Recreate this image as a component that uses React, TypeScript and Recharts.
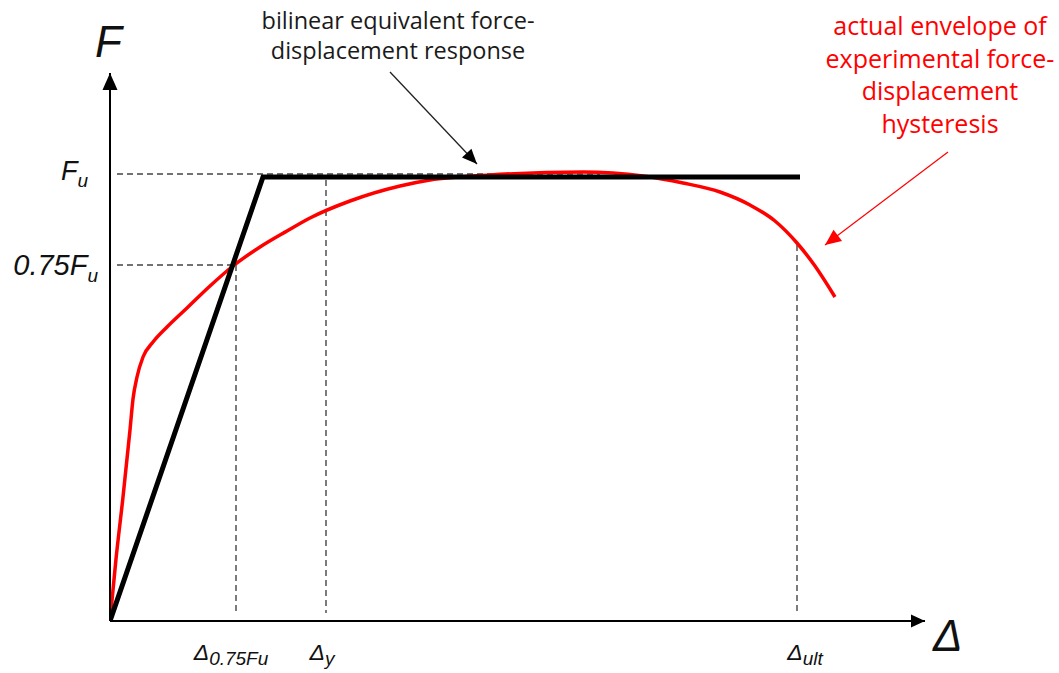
import React from "react";
import {
  ComposedChart,
  Line,
  XAxis,
  YAxis,
  ReferenceLine,
  ReferenceDot,
} from "recharts";

// ---- data (schematic units: Δ horizontally, F vertically) ----
const bilinear = [
  { x: 0, y: 0 },
  { x: 153, y: 444 },
  { x: 690, y: 444 },
];

const envelope = [
  { x: 0, y: 0 },
  { x: 6, y: 62 },
  { x: 13, y: 124 },
  { x: 20, y: 191 },
  { x: 23, y: 222 },
  { x: 27, y: 244 },
  { x: 33, y: 264 },
  { x: 43, y: 279 },
  { x: 57, y: 294 },
  { x: 77, y: 313 },
  { x: 100, y: 335 },
  { x: 123, y: 355 },
  { x: 150, y: 374 },
  { x: 177, y: 390 },
  { x: 200, y: 403 },
  { x: 240, y: 420 },
  { x: 290, y: 435 },
  { x: 320, y: 441 },
  { x: 380, y: 446 },
  { x: 473, y: 449 },
  { x: 533, y: 445 },
  { x: 573, y: 438 },
  { x: 610, y: 429 },
  { x: 640, y: 416 },
  { x: 665, y: 400 },
  { x: 687, y: 378 },
  { x: 705, y: 355 },
  { x: 725, y: 324 },
];

const FU = 444;
const F075 = 356;
const D075 = 126;
const DY = 216;
const DULT = 687;
const ENV_AT_DULT = 376;
const X_MAX = 815;
const Y_MAX = 548;

const yTickLabels = [
  { value: F075, main: "0.75F", sub: "u" },
  { value: FU, main: "F", sub: "u" },
];
const xTickLabels = [
  { value: D075, main: "Δ", sub: "0.75Fu" },
  { value: DY, main: "Δ", sub: "y" },
  { value: DULT, main: "Δ", sub: "ult" },
];

const blackNote = ["bilinear equivalent force-", "displacement response"];
const redNote = [
  "actual envelope of",
  "experimental force-",
  "displacement",
  "hysteresis",
];

// annotation arrows (start -> tip), in chart units
const blackArrow = { from: { x: 280, y: 549 }, to: { x: 367, y: 457 } };
const redArrow = { from: { x: 838, y: 469 }, to: { x: 715, y: 376 } };

const RED = "#ff0000";
const DASH = "#444";
const SANS = "'Liberation Sans', Arial, sans-serif";
const NOTE_FONT = "'Open Sans', sans-serif";

const arrowHead =
  (angle: number, len: number, half: number, fill: string) => (props: any) => {
    const { cx, cy } = props;
    if (cx == null || cy == null) return <g />;
    return (
      <polygon
        points={`0,0 ${-len},${-half} ${-len},${half}`}
        fill={fill}
        transform={`translate(${cx},${cy}) rotate(${angle})`}
      />
    );
  };

const yTickOffsets: Record<number, { dx: number; dy: number; main: number; sub: number }> = {
  [F075]: { dx: -10, dy: 10, main: 29, sub: 19 },
  [FU]: { dx: -20, dy: 3, main: 27, sub: 19 },
};

const YTick = (props: any) => {
  const { x, y, payload } = props;
  const item = yTickLabels.find((t) => t.value === payload.value);
  if (!item) return <g />;
  const o = yTickOffsets[item.value];
  return (
    <text
      x={x + o.dx}
      y={y + o.dy}
      textAnchor="end"
      fontFamily={SANS}
      fontStyle="italic"
      fill="#111"
    >
      <tspan fontSize={o.main}>{item.main}</tspan>
      <tspan fontSize={o.sub} dy={7}>
        {item.sub}
      </tspan>
    </text>
  );
};

const xTickOffsets: Record<number, number> = {
  [D075]: -5,
  [DY]: -4,
  [DULT]: 8,
};

const XTick = (props: any) => {
  const { x, payload } = props;
  const item = xTickLabels.find((t) => t.value === payload.value);
  if (!item) return <g />;
  return (
    <text
      x={x + xTickOffsets[item.value]}
      y={660}
      textAnchor="middle"
      fontFamily={SANS}
      fontStyle="italic"
      fill="#111"
    >
      <tspan fontSize={23}>{item.main}</tspan>
      <tspan fontSize={19} dy={5}>
        {item.sub}
      </tspan>
    </text>
  );
};

export default function App() {
  return (
    <div style={{ position: "absolute", left: 0, top: 0, width: 1059, height: 673, background: "#fff" }}>
      <ComposedChart
        width={1059}
        height={673}
        margin={{ top: 73, right: 134, bottom: 0, left: 0 }}
      >
        <XAxis
          type="number"
          dataKey="x"
          domain={[0, X_MAX]}
          allowDataOverflow
          ticks={xTickLabels.map((t) => t.value)}
          tick={<XTick />}
          tickLine={false}
          tickSize={0}
          height={52}
          axisLine={{ stroke: "#000", strokeWidth: 2 }}
          interval={0}
        />
        <YAxis
          type="number"
          dataKey="y"
          domain={[0, Y_MAX]}
          allowDataOverflow
          ticks={yTickLabels.map((t) => t.value)}
          tick={<YTick />}
          tickLine={false}
          tickSize={0}
          width={110}
          axisLine={{ stroke: "#000", strokeWidth: 2 }}
          interval={0}
        />

        {/* dashed guide lines */}
        <ReferenceLine
          segment={[{ x: 7, y: FU + 3 }, { x: 490, y: FU + 3 }]}
          stroke={DASH}
          strokeWidth={1.4}
          strokeDasharray="6 4"
          ifOverflow="visible"
        />
        <ReferenceLine
          segment={[{ x: 7, y: F075 }, { x: D075 - 3, y: F075 }]}
          stroke={DASH}
          strokeWidth={1.4}
          strokeDasharray="6 4"
          ifOverflow="visible"
        />
        <ReferenceLine
          segment={[{ x: D075, y: F075 }, { x: D075, y: 8 }]}
          stroke={DASH}
          strokeWidth={1.4}
          strokeDasharray="6 4"
          ifOverflow="visible"
        />
        <ReferenceLine
          segment={[{ x: DY, y: FU - 3 }, { x: DY, y: 8 }]}
          stroke={DASH}
          strokeWidth={1.4}
          strokeDasharray="6 4"
          ifOverflow="visible"
        />
        <ReferenceLine
          segment={[{ x: DULT, y: ENV_AT_DULT }, { x: DULT, y: 8 }]}
          stroke={DASH}
          strokeWidth={1.4}
          strokeDasharray="6 4"
          ifOverflow="visible"
        />

        <Line
          data={envelope}
          dataKey="y"
          type="monotone"
          stroke={RED}
          strokeWidth={3.5}
          dot={false}
          activeDot={false}
          isAnimationActive={false}
        />
        <Line
          data={bilinear}
          dataKey="y"
          type="linear"
          stroke="#000"
          strokeWidth={5}
          dot={false}
          activeDot={false}
          isAnimationActive={false}
        />

        {/* annotation arrows */}
        <ReferenceLine
          segment={[blackArrow.from, blackArrow.to]}
          stroke="#222"
          strokeWidth={1.3}
          ifOverflow="visible"
        />
        <ReferenceLine
          segment={[redArrow.from, redArrow.to]}
          stroke={RED}
          strokeWidth={1.2}
          ifOverflow="visible"
        />
        <ReferenceDot
          x={blackArrow.to.x}
          y={blackArrow.to.y}
          ifOverflow="visible"
          shape={arrowHead(46.6, 15, 6.5, "#000")}
        />
        <ReferenceDot
          x={redArrow.to.x}
          y={redArrow.to.y}
          ifOverflow="visible"
          shape={arrowHead(142.9, 16, 7, RED)}
        />

        {/* axis arrow heads */}
        <ReferenceDot
          x={0}
          y={Y_MAX}
          ifOverflow="visible"
          shape={arrowHead(-90, 17, 7.5, "#000")}
        />
        <ReferenceDot
          x={X_MAX}
          y={0}
          ifOverflow="visible"
          shape={arrowHead(0, 14, 6.5, "#000")}
        />
      </ComposedChart>

      <svg
        width={1059}
        height={673}
        style={{ position: "absolute", left: 0, top: 0, pointerEvents: "none" }}
      >
        <text x={95} y={57} fontFamily={SANS} fontStyle="italic" fontSize={44} fill="#111">
          F
        </text>
        <text x={933} y={651} fontFamily={SANS} fontStyle="italic" fontSize={44} fill="#111">
          Δ
        </text>
        {blackNote.map((line, i) => (
          <text
            key={line}
            x={398}
            y={29 + i * 30}
            textAnchor="middle"
            fontFamily={NOTE_FONT}
            fontSize={23.5}
            fill="#1a1a1a"
          >
            {line}
          </text>
        ))}
        {redNote.map((line, i) => (
          <text
            key={line}
            x={940}
            y={35 + i * 32.7}
            textAnchor="middle"
            fontFamily={NOTE_FONT}
            fontSize={25}
            fill={RED}
          >
            {line}
          </text>
        ))}
      </svg>
    </div>
  );
}
